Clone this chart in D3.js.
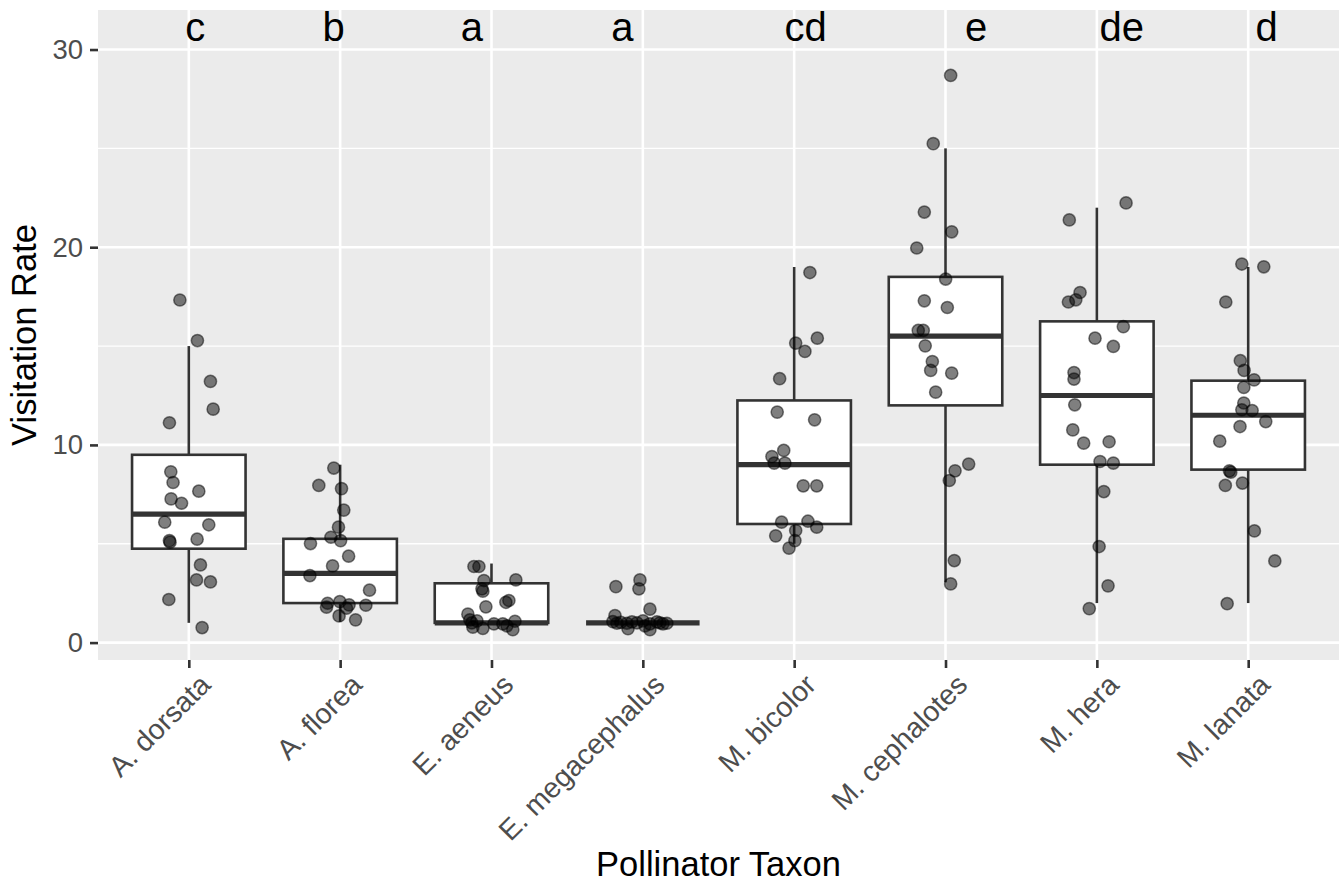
<!DOCTYPE html>
<html>
<head>
<meta charset="utf-8">
<script src="https://cdn.jsdelivr.net/npm/d3@7/dist/d3.min.js"></script>
<style>
  html, body { margin: 0; padding: 0; background: #ffffff; }
  svg { display: block; font-family: "Liberation Sans", Arial, sans-serif; }
</style>
</head>
<body>
<svg id="chart" width="1343" height="882"></svg>
<script>
// ---------- DATA ----------
const categories = ["A. dorsata", "A. florea", "E. aeneus", "E. megacephalus",
                    "M. bicolor", "M. cephalotes", "M. hera", "M. lanata"];

// Tukey letters shown above each taxon, and their horizontal nudge (in category units)
const groupLetters = ["c", "b", "a", "a", "cd", "e", "de", "d"];
const letterNudge  = [0.043, -0.043, -0.129, -0.135, 0.076, 0.203, 0.165, 0.122];

// Box statistics: [lower whisker, Q1, median, Q3, upper whisker]
const boxStats = [
  [1.0, 4.75, 6.5, 9.5, 15.0],
  [1.05, 2.0, 3.5, 5.25, 9.0],
  [1.0, 1.0, 1.0, 3.0, 4.0],
  [1.0, 1.0, 1.0, 1.0, 1.0],
  [5.0, 6.0, 9.0, 12.25, 19.0],
  [3.05, 12.0, 15.5, 18.5, 25.0],
  [2.0, 9.0, 12.5, 16.25, 22.0],
  [2.0, 8.75, 11.5, 13.25, 19.0]
];

// Observed visitation rates per taxon
const valDorsata = [17.33, 15.28, 13.21, 11.81, 11.12, 8.64, 8.10, 7.66, 7.27, 7.05,
                    6.09, 5.96, 5.16, 5.08, 5.23, 3.93, 3.17, 3.07, 2.18, 0.76];
const valFlorea  = [8.83, 7.95, 7.79, 6.70, 5.84, 5.33, 5.16, 5.01, 4.37, 3.88,
                    3.39, 2.65, 1.99, 2.07, 1.91, 1.89, 1.79, 1.74, 1.35, 1.15];
const valAeneus  = [3.85, 3.85, 3.17, 3.14, 2.72, 2.60, 2.13, 2.04, 1.81, 1.44,
                    1.15, 1.10, 1.00, 0.95, 0.95, 1.08, 0.85, 0.78, 0.72, 0.65];
const valMegaceph= [2.83, 3.17, 2.72, 1.69, 1.37, 1.06, 0.98, 0.98, 0.70, 1.10,
                    0.95, 0.65, 1.05, 0.95, 0.98, 1.00, 1.02, 1.05, 0.85, 1.00];
const valBicolor = [18.72, 15.40, 15.15, 14.73, 13.35, 11.66, 11.27, 9.72, 9.41, 9.08,
                    9.08, 7.93, 7.93, 6.09, 6.14, 5.84, 5.67, 5.40, 5.16, 4.78];
const valCephal  = [28.69, 25.24, 21.78, 20.78, 19.96, 18.39, 17.29, 16.95, 15.79, 15.79,
                    15.01, 14.22, 13.77, 13.63, 12.67, 9.03, 8.69, 8.20, 4.15, 2.97];
const valHera    = [22.24, 21.38, 17.71, 17.23, 17.34, 15.98, 15.40, 14.98, 13.66, 13.33,
                    12.03, 10.76, 10.09, 10.16, 9.16, 9.08, 7.64, 4.86, 2.87, 1.72];
const valLanata  = [19.15, 19.01, 17.23, 14.26, 13.77, 13.29, 12.91, 12.12, 11.78, 11.74,
                    11.18, 10.93, 10.19, 8.69, 8.62, 8.07, 7.95, 5.65, 4.13, 1.97];

// Horizontal jitter of each observation (in category units)
const jitDorsata = [-0.059, 0.057, 0.143, 0.161, -0.128, -0.119, -0.104, 0.066, -0.117, -0.048,
                    -0.159, 0.132, -0.128, -0.124, 0.055, 0.077, 0.051, 0.143, -0.132, 0.088];
const jitFlorea  = [-0.042, -0.141, 0.009, 0.024, -0.011, -0.061, 0.003, -0.196, 0.056, -0.050,
                    -0.200, 0.194, -0.083, -0.002, 0.059, 0.170, -0.090, 0.042, -0.007, 0.102];
const jitAeneus  = [-0.116, -0.083, 0.161, -0.050, -0.063, -0.057, 0.115, 0.095, -0.037, -0.156,
                    -0.143, -0.096, -0.130, 0.016, 0.075, 0.155, 0.102, -0.123, -0.057, 0.141];
const jitMegaceph= [-0.178, -0.019, -0.026, 0.047, -0.184, -0.198, -0.171, -0.105, -0.098, 0.001,
                    0.047, 0.047, 0.093, 0.133, 0.159, -0.039, -0.145, -0.072, 0.014, 0.113];
const jitBicolor = [0.104, 0.153, 0.010, 0.071, -0.096, -0.112, 0.135, -0.069, -0.147, -0.132,
                    -0.061, 0.060, 0.149, -0.083, 0.091, 0.149, 0.010, -0.122, 0.005, -0.034];
const jitCephal  = [0.034, -0.081, -0.140, 0.041, -0.190, 0.001, -0.140, 0.012, -0.180, -0.147,
                    -0.134, -0.087, -0.098, 0.041, -0.065, 0.153, 0.063, 0.025, 0.058, 0.034];
const jitHera    = [0.193, -0.182, -0.111, -0.188, -0.139, 0.175, -0.012, 0.109, -0.151, -0.151,
                    -0.146, -0.159, -0.087, 0.081, 0.021, 0.109, 0.046, 0.015, 0.074, -0.050];
const jitLanata  = [-0.042, 0.103, -0.148, -0.052, -0.027, 0.039, -0.029, -0.029, -0.042, 0.026,
                    0.116, -0.054, -0.188, -0.124, -0.115, -0.038, -0.151, 0.041, 0.176, -0.139];

const yTicks = [0, 10, 20, 30];
const yMinor = [5, 15, 25];
const xTitle = "Pollinator Taxon";
const yTitle = "Visitation Rate";

// ---------- BUILD ----------
const values = [valDorsata, valFlorea, valAeneus, valMegaceph, valBicolor, valCephal, valHera, valLanata];
const jitters = [jitDorsata, jitFlorea, jitAeneus, jitMegaceph, jitBicolor, jitCephal, jitHera, jitLanata];
const points = [];
categories.forEach((c, i) => values[i].forEach((v, j) => points.push({cat: c, v: v, j: jitters[i][j]})));

const panel = {left: 98, right: 1339, top: 10, bottom: 660};

const svg = d3.select("#chart");

const x = d3.scalePoint().domain(categories).range([panel.left, panel.right]).padding(0.6);
const step = x.step();
const y = d3.scaleLinear().domain([-0.88, 32.0]).range([panel.bottom, panel.top]);

// panel background
svg.append("rect")
  .attr("x", panel.left).attr("y", panel.top)
  .attr("width", panel.right - panel.left).attr("height", panel.bottom - panel.top)
  .attr("fill", "#EBEBEB");

const grid = svg.append("g");
grid.selectAll("line.minor").data(yMinor).join("line")
  .attr("x1", panel.left).attr("x2", panel.right)
  .attr("y1", d => y(d)).attr("y2", d => y(d))
  .attr("stroke", "#ffffff").attr("stroke-width", 1.3);
grid.selectAll("line.majorY").data(yTicks).join("line")
  .attr("x1", panel.left).attr("x2", panel.right)
  .attr("y1", d => y(d)).attr("y2", d => y(d))
  .attr("stroke", "#ffffff").attr("stroke-width", 2.6);
grid.selectAll("line.majorX").data(categories).join("line")
  .attr("y1", panel.top).attr("y2", panel.bottom)
  .attr("x1", d => x(d)).attr("x2", d => x(d))
  .attr("stroke", "#ffffff").attr("stroke-width", 2.6);

// boxplots
const boxW = 0.75 * step;
const boxes = svg.append("g").selectAll("g").data(categories).join("g");
boxes.append("line")
  .attr("x1", d => x(d)).attr("x2", d => x(d))
  .attr("y1", (d, i) => y(boxStats[i][3])).attr("y2", (d, i) => y(boxStats[i][4]))
  .attr("stroke", "#333333").attr("stroke-width", 2.6);
boxes.append("line")
  .attr("x1", d => x(d)).attr("x2", d => x(d))
  .attr("y1", (d, i) => y(boxStats[i][1])).attr("y2", (d, i) => y(boxStats[i][0]))
  .attr("stroke", "#333333").attr("stroke-width", 2.6);
boxes.append("rect")
  .attr("x", d => x(d) - boxW / 2).attr("width", boxW)
  .attr("y", (d, i) => y(boxStats[i][3]))
  .attr("height", (d, i) => y(boxStats[i][1]) - y(boxStats[i][3]))
  .attr("fill", "#ffffff").attr("stroke", "#333333").attr("stroke-width", 2.6);
boxes.append("line")
  .attr("x1", d => x(d) - boxW / 2).attr("x2", d => x(d) + boxW / 2)
  .attr("y1", (d, i) => y(boxStats[i][2])).attr("y2", (d, i) => y(boxStats[i][2]))
  .attr("stroke", "#333333").attr("stroke-width", 5.2);

// jittered points
svg.append("g").selectAll("circle").data(points).join("circle")
  .attr("cx", d => x(d.cat) + d.j * step)
  .attr("cy", d => y(d.v))
  .attr("r", 6.1)
  .attr("fill", "rgba(0,0,0,0.5)")
  .attr("stroke", "rgba(0,0,0,0.5)")
  .attr("stroke-width", 1.5);

// letters
svg.append("g").selectAll("text").data(categories).join("text")
  .attr("x", (d, i) => x(d) + letterNudge[i] * step)
  .attr("y", y(30.45))
  .attr("text-anchor", "middle")
  .attr("font-size", 40)
  .attr("fill", "#000000")
  .text((d, i) => groupLetters[i]);

// y axis
const yAxis = svg.append("g")
  .attr("transform", `translate(${panel.left},0)`)
  .call(d3.axisLeft(y).tickValues(yTicks).tickSize(8).tickPadding(7));
yAxis.select(".domain").remove();
yAxis.selectAll(".tick line").attr("stroke", "#333333").attr("stroke-width", 2.6);
yAxis.selectAll(".tick text")
  .attr("fill", "#4D4D4D").attr("font-size", 27.5)
  .attr("font-family", "Liberation Sans, Arial, sans-serif");

// x axis
const xAxis = svg.append("g")
  .attr("transform", `translate(0,${panel.bottom})`)
  .call(d3.axisBottom(x).tickSize(8).tickFormat(""));
xAxis.select(".domain").remove();
xAxis.selectAll(".tick line").attr("stroke", "#333333").attr("stroke-width", 2.6);

svg.append("g").selectAll("text").data(categories).join("text")
  .attr("transform", d => `translate(${x(d) + 9},${panel.bottom + 12}) rotate(-45)`)
  .attr("text-anchor", "end")
  .attr("dy", "0.72em")
  .attr("font-size", 28.5)
  .attr("fill", "#4D4D4D")
  .text(d => d);

// axis titles
svg.append("text")
  .attr("x", (panel.left + panel.right) / 2).attr("y", 876)
  .attr("text-anchor", "middle").attr("font-size", 34.5).attr("fill", "#000000")
  .text(xTitle);
svg.append("text")
  .attr("transform", `translate(36,${(panel.top + panel.bottom) / 2}) rotate(-90)`)
  .attr("text-anchor", "middle").attr("font-size", 34.5).attr("fill", "#000000")
  .text(yTitle);
</script>
</body>
</html>
